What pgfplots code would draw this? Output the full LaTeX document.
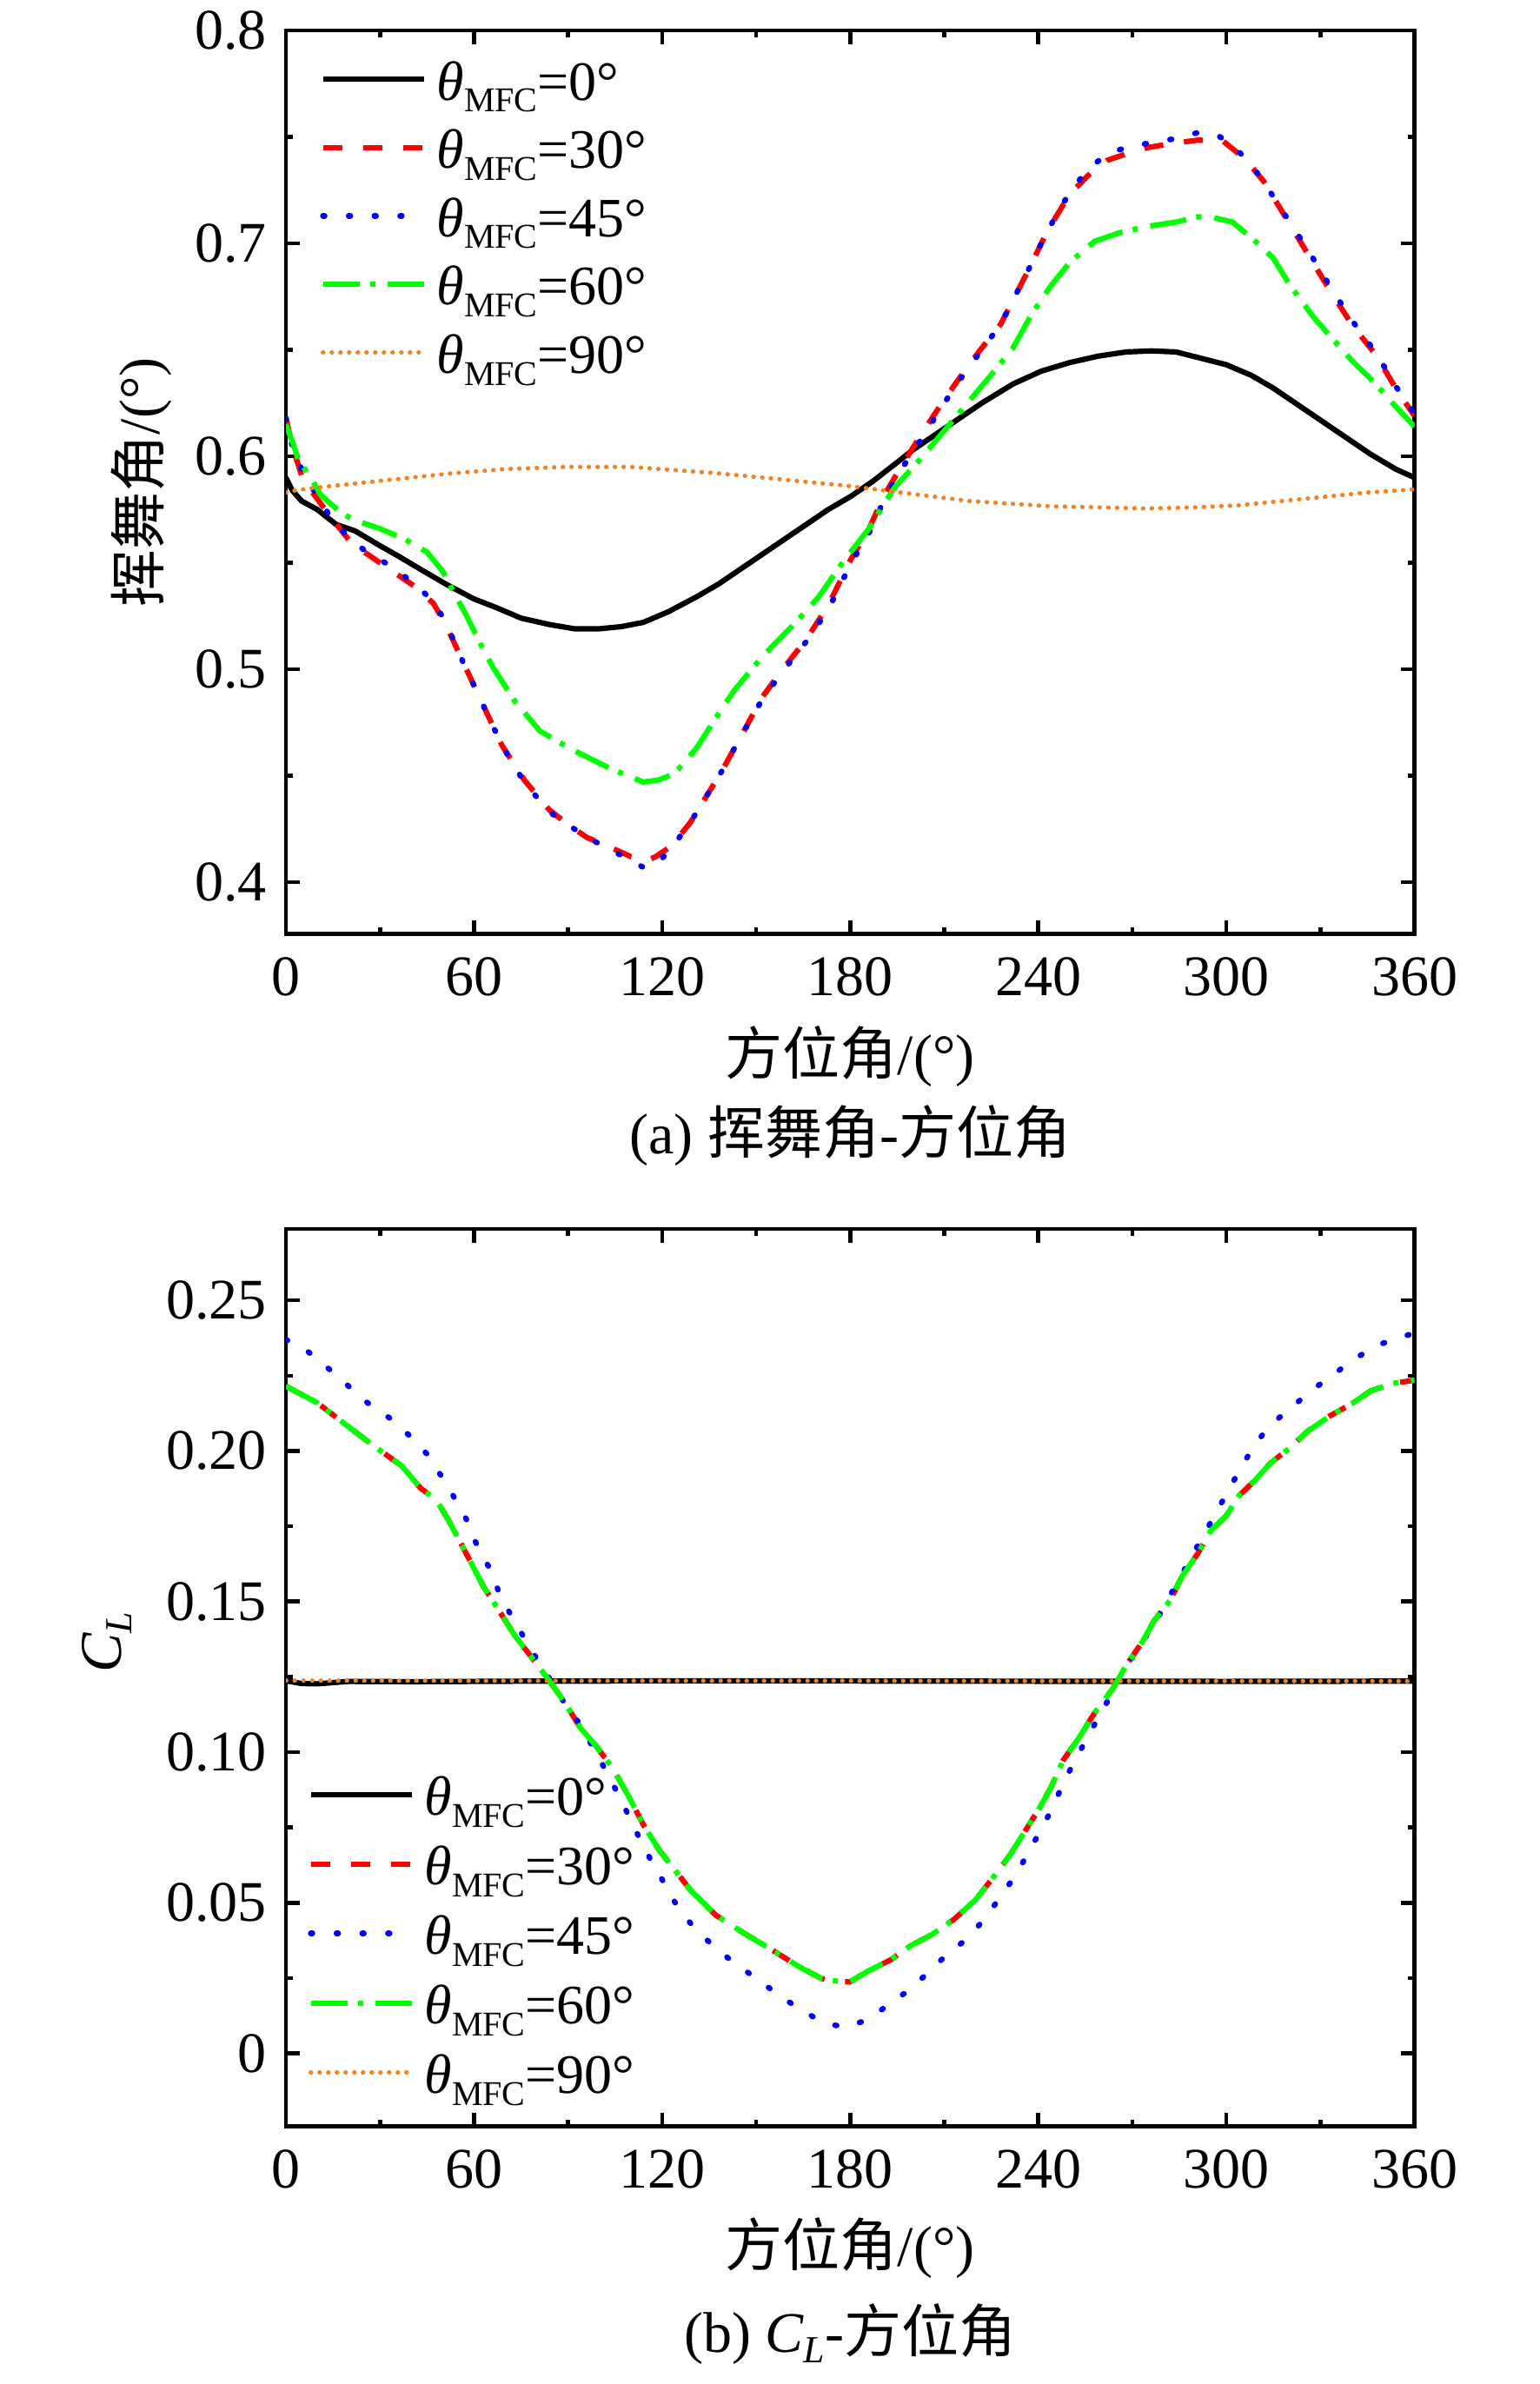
\documentclass[border=0pt]{standalone}
\usepackage{fontspec}
\setmainfont{Liberation Serif}
\newfontfamily\cjk{Noto Sans CJK SC}
\usepackage{pgfplots}
\pgfplotsset{compat=1.18}
\definecolor{cred}{RGB}{255,0,0}
\definecolor{cblue}{RGB}{0,0,255}
\definecolor{cgreen}{RGB}{0,255,0}
\definecolor{corange}{RGB}{245,130,32}
\tikzset{
  s0/.style={black, line width=1.55pt},
  s30/.style={cred, line width=1.55pt, dash pattern=on 5.5pt off 6pt},
  s45/.style={cblue, line width=1.6pt, line cap=round, dash pattern=on 0.5pt off 6.9pt},
  s60/.style={cgreen, line width=1.55pt, dash pattern=on 10.5pt off 3pt on 1.5pt off 3.7pt},
  s90/.style={corange, line width=1.25pt, line cap=round, dash pattern=on 0.1pt off 2.4pt},
}
\newcommand\lt[1]{{\itshape θ}\raisebox{-3.4pt}{\fontsize{10}{10}\selectfont MFC}=#1°}
\pgfplotsset{
  myaxis/.style={
    scale only axis, width=324.625pt,
    xmin=0, xmax=360,
    xtick={0,60,120,180,240,300,360},
    xticklabels={0,60,120,180,240,300,360},
    minor x tick num=1, minor y tick num=1,
    tick align=inside, tick pos=both,
    major tick length=3.9pt, minor tick length=1.9pt,
    every tick/.style={black, line width=1.15pt},
    axis line style={line width=1.15pt},
    ticklabel style={font=\fontsize{16.5}{16.5}\selectfont},
    xticklabel style={yshift=-3.2pt},
    yticklabel style={xshift=-2pt},
    label style={font=\fontsize{16.5}{16.5}\selectfont},
    xlabel={{\cjk 方位角}/(°)},
    legend image code/.code={\draw[##1] (0pt,6pt) -- (29pt,6pt);},
    legend style={draw=none, fill=none, inner sep=0pt,
      font=\fontsize{16}{16}\selectfont, column sep=3pt,
      cells={anchor=base west},
      nodes={inner sep=0pt, text height=11pt, text depth=4.5pt}},
  }
}
\begin{document}
\begin{tikzpicture}
\useasboundingbox (0,0) rectangle (443pt,-685.75pt);
% ---------------- (a)
\begin{axis}[myaxis,
  at={(82.25pt,-268.625pt)}, anchor=south west,
  height=259.875pt,
  ymin=0.3757, ymax=0.8,
  ytick={0.4,0.5,0.6,0.7,0.8},
  yticklabels={0.4,0.5,0.6,0.7,0.8},
  xlabel style={at={(axis description cs:0.5,-0.136)}, anchor=center},
  ylabel={{\cjk 挥舞角}/(°)},
  ylabel style={at={(axis description cs:-0.128,0.5)}, anchor=center},
  legend style={at={(axis description cs:0.0297,0.966)}, anchor=north west, row sep=4.15pt},
]
\addplot[s0] coordinates {
(0,0.590) (2,0.584) (5,0.579) (10,0.575) (16,0.568) (22,0.565) (30,0.558) (36,0.553)
(44,0.546) (51,0.540) (60,0.533) (67,0.529) (75,0.524) (84,0.521) (92,0.519) (100,0.519)
(107,0.520) (114,0.522) (122,0.527) (131,0.534) (138,0.540) (145,0.547) (152,0.554)
(159,0.561) (166,0.568) (173,0.575) (180,0.581) (187,0.588) (194,0.596) (200,0.603)
(207,0.610) (214,0.617) (222,0.625) (232,0.634) (241,0.640) (250,0.644) (259,0.647)
(268,0.649) (276,0.6495) (284,0.649) (292,0.646) (300,0.643) (308,0.638) (315,0.632)
(322,0.625) (330,0.617) (338,0.609) (346,0.601) (354,0.594) (360,0.590)
};
\addlegendentry{\lt{0}}
\addplot[s30] coordinates {
(0,0.618) (2,0.605) (5,0.591) (8,0.584) (11,0.578) (14,0.572) (21,0.559) (27,0.553)
(34,0.546) (41,0.539) (47,0.531) (51,0.521) (56,0.505) (62,0.486) (69,0.464) (76,0.448)
(84,0.434) (90,0.427) (96,0.421) (104,0.416) (110,0.412) (115,0.410) (118,0.412)
(123,0.417) (129,0.428) (134,0.440) (139,0.452) (145,0.468) (152,0.487) (159,0.501)
(166,0.514) (173,0.530) (180,0.551) (186,0.566) (191,0.582) (195,0.592) (200,0.604)
(207,0.620) (214,0.635) (221,0.649) (228,0.662) (236,0.685) (243,0.706) (250,0.723)
(256,0.732) (262,0.739) (268,0.742) (275,0.745) (283,0.747) (291,0.7485) (299,0.748)
(304,0.742) (308,0.736) (312,0.729) (319,0.712) (326,0.695) (333,0.678) (340,0.662)
(348,0.647) (354,0.632) (360,0.619)
};
\addlegendentry{\lt{30}}
\addplot[s45] coordinates {
(0,0.618) (2,0.605) (5,0.594) (8,0.586) (11,0.579) (14,0.572) (21,0.560) (27,0.554)
(34,0.548) (41,0.540) (47,0.532) (51,0.522) (56,0.505) (62,0.486) (69,0.464) (76,0.447)
(84,0.433) (90,0.427) (96,0.421) (104,0.415) (110,0.410) (114,0.407) (118,0.408)
(123,0.416) (129,0.428) (134,0.440) (139,0.452) (145,0.468) (152,0.486) (159,0.500)
(166,0.513) (173,0.528) (180,0.549) (186,0.564) (191,0.580) (195,0.591) (200,0.602)
(207,0.618) (214,0.634) (221,0.648) (228,0.662) (236,0.685) (243,0.706) (250,0.724)
(256,0.735) (262,0.742) (268,0.745) (275,0.747) (283,0.749) (291,0.752) (297,0.751)
(302,0.746) (306,0.740) (311,0.731) (318,0.715) (326,0.697) (333,0.680) (340,0.664)
(348,0.648) (354,0.633) (360,0.620)
};
\addlegendentry{\lt{45}}
\addplot[s60] coordinates {
(0,0.615) (1,0.611) (2.5,0.605) (4,0.598) (8,0.590) (11,0.582) (14,0.578) (18,0.573)
(22,0.570) (30,0.566) (38,0.561) (45,0.555) (50,0.546) (54,0.535) (58,0.524) (62,0.512)
(66,0.501) (73,0.485) (81,0.471) (88,0.465) (93,0.461) (104,0.453) (114,0.447)
(119,0.448) (124,0.451) (131,0.463) (138,0.479) (143,0.490) (152,0.506) (162,0.521)
(170,0.534) (178,0.551) (186,0.566) (194,0.585) (202,0.598) (210,0.612) (218,0.626)
(226,0.640) (232,0.651) (238,0.667) (244,0.680) (250,0.691) (258,0.701) (266,0.705)
(275,0.708) (284,0.710) (291,0.7125) (296,0.712) (302,0.710) (310,0.700) (315,0.693)
(320,0.681) (328,0.665) (334,0.655) (340,0.645) (347,0.635) (353,0.625) (360,0.614)
};
\addlegendentry{\lt{60}}
\addplot[s90] coordinates {
(0,0.583) (3,0.584) (8,0.585) (27,0.588) (53,0.592) (70,0.594) (89,0.595) (110,0.595)
(138,0.592) (166,0.588) (180,0.586) (196,0.583) (218,0.579) (244,0.5765) (260,0.576)
(274,0.5755) (290,0.576) (304,0.577) (328,0.5805) (345,0.583) (360,0.5845)
};
\addlegendentry{\lt{90}}
\end{axis}
\node[font=\fontsize{16.5}{16.5}\selectfont] at (244.6pt,-326.75pt) {(a) {\cjk 挥舞角}-{\cjk 方位角}};
% ---------------- (b)
\begin{axis}[myaxis,
  at={(82.25pt,-611.625pt)}, anchor=south west,
  height=258.125pt,
  ymin=-0.0242, ymax=0.2737,
  ytick={0,0.05,0.10,0.15,0.20,0.25},
  yticklabels={0,0.05,0.10,0.15,0.20,0.25},
  xlabel style={at={(axis description cs:0.5,-0.136)}, anchor=center},
  ylabel={{\itshape C}\raisebox{-3pt}{\fontsize{11}{11}\selectfont\itshape L}},
  ylabel style={at={(axis description cs:-0.159,0.539)}, anchor=center, font=\fontsize{17}{17}\selectfont},
  legend style={at={(axis description cs:0.0189,0.39)}, anchor=north west, row sep=4.5pt},
]
\addplot[s0] coordinates {
(0,0.1237) (5,0.1228) (10,0.1227) (20,0.1235) (40,0.1234) (80,0.1236) (150,0.1237)
(200,0.1236) (300,0.1235) (360,0.1236)
};
\addlegendentry{\lt{0}}
\addplot[s30] coordinates {
(0,0.2215) (10,0.216) (20,0.208) (28,0.2017) (37,0.195) (43,0.1876) (48,0.1838)
(52,0.1768) (58,0.165) (63,0.155) (68,0.147) (73,0.1387) (78,0.132) (84,0.1238)
(89,0.1164) (94,0.108) (99,0.102) (104,0.095) (109,0.086) (114,0.076) (119,0.0676)
(124,0.061) (129,0.0543) (137,0.046) (146,0.040) (155,0.0344) (164,0.0286) (171,0.0248)
(177,0.0238) (180,0.0238) (186,0.0275) (193,0.0311) (199,0.0356) (206,0.0394)
(213,0.0444) (220,0.051) (225,0.0576) (231,0.0659) (235,0.0725) (240,0.0808)
(244,0.0882) (248,0.0974) (253,0.1048) (258,0.1131) (264,0.1214) (268,0.1288)
(273,0.1363) (277,0.1437) (282,0.1503) (286,0.1586) (291,0.1661) (295,0.1735)
(300,0.1785) (304,0.1851) (309,0.1901) (314,0.1959) (320,0.2008) (326,0.2066)
(333,0.2116) (340,0.2157) (346,0.2199) (353,0.2224) (360,0.2235)
};
\addlegendentry{\lt{30}}
\addplot[s45] coordinates {
(0,0.237) (7,0.233) (14,0.227) (20,0.2215) (26,0.216) (33,0.211) (39,0.2055) (45,0.199)
(50,0.191) (54,0.184) (58,0.1765) (61,0.1685) (65,0.161) (68,0.153) (72,0.145)
(76,0.138) (80,0.131) (85,0.123) (89,0.116) (94,0.109) (98,0.1015) (102,0.094)
(106,0.086) (110,0.0775) (113,0.071) (117,0.063) (121,0.056) (125,0.0485) (130,0.042)
(136,0.036) (143,0.030) (150,0.025) (157,0.0195) (165,0.014) (172,0.010) (179,0.0086)
(186,0.0115) (192,0.016) (199,0.0212) (205,0.027) (211,0.033) (218,0.0386) (223,0.045)
(228,0.052) (233,0.0596) (237,0.067) (241,0.0745) (245,0.0824) (248,0.090) (252,0.0977)
(256,0.1056) (260,0.113) (264,0.1205) (268,0.128) (272,0.135) (277,0.1424) (281,0.150)
(285,0.1575) (289,0.165) (293,0.1725) (297,0.180) (301,0.1876) (305,0.195) (309,0.202)
(314,0.2086) (321,0.2146) (327,0.220) (334,0.2252) (340,0.230) (348,0.235) (356,0.238)
(360,0.239)
};
\addlegendentry{\lt{45}}
\addplot[s60] coordinates {
(0,0.2215) (10,0.216) (20,0.208) (28,0.2017) (37,0.195) (43,0.1876) (48,0.1838)
(52,0.1768) (58,0.165) (63,0.155) (68,0.147) (73,0.1387) (78,0.132) (84,0.1238)
(89,0.1164) (94,0.108) (99,0.102) (104,0.095) (109,0.086) (114,0.076) (119,0.0676)
(124,0.061) (129,0.0543) (137,0.046) (146,0.040) (155,0.0344) (164,0.0286) (171,0.0248)
(177,0.0238) (180,0.0238) (186,0.0275) (193,0.0311) (199,0.0356) (206,0.0394)
(213,0.0444) (220,0.051) (225,0.0576) (231,0.0659) (235,0.0725) (240,0.0808)
(244,0.0882) (248,0.0974) (253,0.1048) (258,0.1131) (264,0.1214) (268,0.1288)
(273,0.1363) (277,0.1437) (282,0.1503) (286,0.1586) (291,0.1661) (295,0.1735)
(300,0.1785) (304,0.1851) (309,0.1901) (314,0.1959) (320,0.2008) (326,0.2066)
(333,0.2116) (340,0.2157) (346,0.2199) (353,0.2224) (360,0.2235)
};
\addlegendentry{\lt{60}}
\addplot[s90] coordinates {
(0,0.1238) (60,0.1237) (120,0.1237) (180,0.1237) (240,0.1236) (300,0.1236) (360,0.1236)
};
\addlegendentry{\lt{90}}
\end{axis}
\node[font=\fontsize{16.5}{16.5}\selectfont] at (244.6pt,-671.5pt) {(b) {\itshape C}\raisebox{-3pt}{\fontsize{11}{11}\selectfont\itshape L}-{\cjk 方位角}};
\end{tikzpicture}
\end{document}
